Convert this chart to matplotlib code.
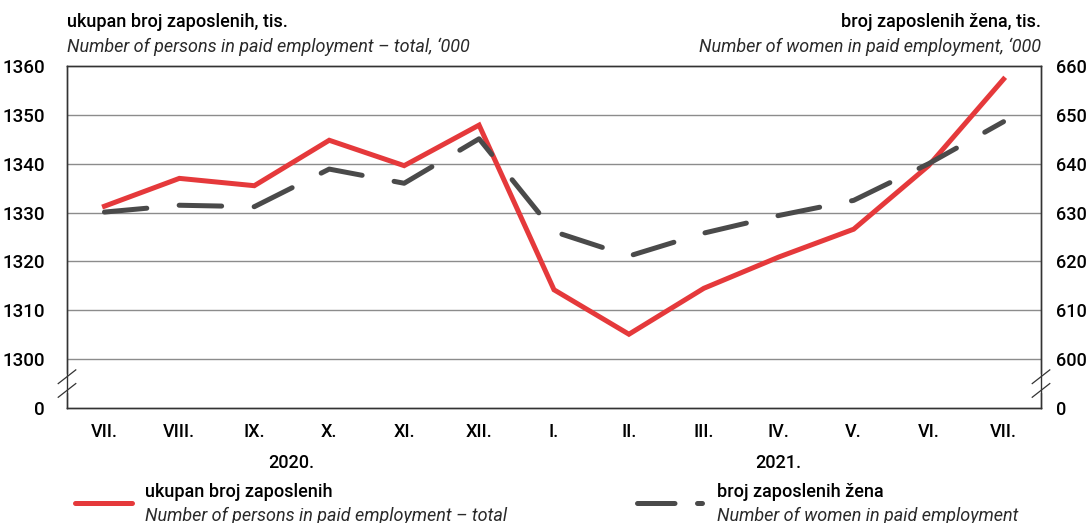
import numpy as np
import matplotlib.pyplot as plt

months = ['VII.', 'VIII.', 'IX.', 'X.', 'XI.', 'XII.', 'I.', 'II.', 'III.', 'IV.', 'V.', 'VI.', 'VII.']
total = [1331.3, 1337.0, 1335.5, 1344.8, 1339.6, 1347.9, 1314.2, 1305.1, 1314.5, 1320.9, 1326.6, 1339.6, 1357.3]
women = [630.1, 631.5, 631.2, 638.9, 636.0, 645.1, 626.1, 621.1, 625.8, 629.4, 632.5, 640.0, 648.6]
left_ticks = [1290, 1300, 1310, 1320, 1330, 1340, 1350, 1360]
left_labels = ['0', '1300', '1310', '1320', '1330', '1340', '1350', '1360']
right_ticks = [590, 600, 610, 620, 630, 640, 650, 660]
right_labels = ['0', '600', '610', '620', '630', '640', '650', '660']

plt.rcParams['font.family'] = ['Roboto', 'DejaVu Sans']

RED = '#e5393b'
DARK = '#4a4a4a'
SPINE = '#333333'

fig = plt.figure(figsize=(10.88, 5.23), dpi=100)
ax = fig.add_axes([67 / 1088, 1 - 408 / 523, (1041 - 67) / 1088, (408 - 66) / 523])
ax2 = ax.twinx()

x = np.arange(len(months))
ax.set_xlim(-0.5, len(months) - 0.5)
ax.set_ylim(1290, 1360)
ax2.set_ylim(590, 660)

for v in left_ticks[1:-1]:
    ax.axhline(v, color='#8c8c8c', lw=1.0, zorder=1)

ax.plot(x, total, color=RED, lw=3.6, solid_joinstyle='miter', zorder=3)
ax2.plot(x, women, color=DARK, lw=3.6, dashes=(8.5, 6.5), dash_capstyle='round', zorder=3)

ax.set_yticks(left_ticks)
ax.set_yticklabels(left_labels)
ax2.set_yticks(right_ticks)
ax2.set_yticklabels(right_labels)
ax.set_xticks(x)
ax.set_xticklabels(months)
ax.tick_params(axis='y', length=0, pad=16, labelsize=13.5)
ax2.tick_params(axis='y', length=0, pad=11, labelsize=13)
ax.tick_params(axis='x', length=0, pad=11, labelsize=13)
for lbl in ax.get_xticklabels() + ax.get_yticklabels() + ax2.get_yticklabels():
    lbl.set_fontweight('medium')
for a in (ax, ax2):
    for s in a.spines.values():
        s.set_color(SPINE)
        s.set_linewidth(1.0)

# axis break marks
ytr = ax.get_yaxis_transform()
for xb in (0.0, 1.0):
    ax.plot([xb, xb], [1293.5, 1296.5], color='white', lw=3, transform=ytr, clip_on=False, zorder=5)
    for yb in (1293.6, 1296.4):
        ax.plot([xb - 0.009, xb + 0.009], [yb - 1.4, yb + 1.4], color=SPINE, lw=0.9,
                transform=ytr, clip_on=False, zorder=6)

# titles
fig.text(67 / 1088, 1 - 22 / 523, 'ukupan broj zaposlenih, tis.', fontsize=13, weight='medium',
         va='center', ha='left')
fig.text(67 / 1088, 1 - 47 / 523, 'Number of persons in paid employment – total, \u2018000',
         fontsize=13, style='italic', color='#2a2a2a', va='center', ha='left')
fig.text(1041 / 1088, 1 - 22 / 523, 'broj zaposlenih žena, tis.', fontsize=13, weight='medium',
         va='center', ha='right')
fig.text(1041 / 1088, 1 - 47 / 523, 'Number of women in paid employment, \u2018000',
         fontsize=13, style='italic', color='#2a2a2a', va='center', ha='right')

# years
ax.text(2.5, -0.16, '2020.', transform=ax.get_xaxis_transform(), ha='center', va='center',
        fontsize=13, weight='medium')
ax.text(9.0, -0.16, '2021.', transform=ax.get_xaxis_transform(), ha='center', va='center',
        fontsize=13, weight='medium')

# legend
fig.add_artist(plt.Line2D([75 / 1088, 132 / 1088], [1 - 503 / 523] * 2, color=RED, lw=3.6,
                          solid_capstyle='round'))
fig.add_artist(plt.Line2D([637 / 1088, 702 / 1088], [1 - 503 / 523] * 2, color=DARK, lw=3.6,
                          dashes=(7.5, 4.5), dash_capstyle='round'))
fig.text(145 / 1088, 1 - 492 / 523, 'ukupan broj zaposlenih', fontsize=13, weight='medium',
         va='center', ha='left')
fig.text(145 / 1088, 1 - 516 / 523, 'Number of persons in paid employment – total', fontsize=13,
         style='italic', color='#2a2a2a', va='center', ha='left')
fig.text(717 / 1088, 1 - 492 / 523, 'broj zaposlenih žena', fontsize=13, weight='medium',
         va='center', ha='left')
fig.text(717 / 1088, 1 - 516 / 523, 'Number of women in paid employment', fontsize=13,
         style='italic', color='#2a2a2a', va='center', ha='left')

fig.savefig('out.png', dpi=100)
